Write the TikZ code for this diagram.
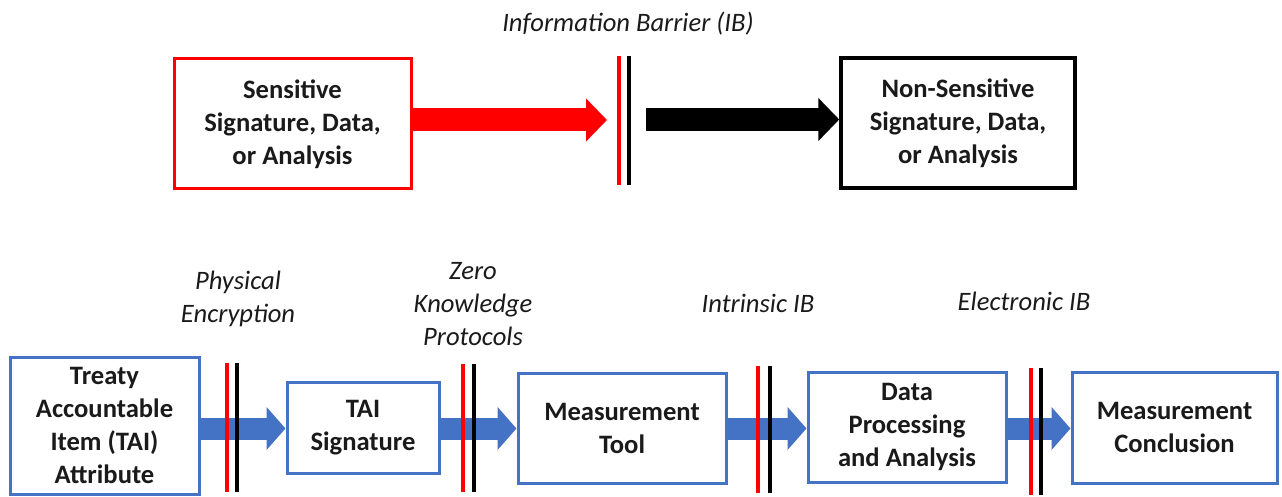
\documentclass[tikz,border=0pt]{standalone}
\usepackage{fontspec}
\setmainfont{Carlito}
\usetikzlibrary{arrows.meta}
\definecolor{obl}{HTML}{4472C4}
\definecolor{ink}{HTML}{1A1A1A}
\tikzset{
  box/.style={draw, line width=3pt, fill=white, inner sep=0pt, align=center,
    font=\fontsize{26.6}{33}\selectfont\bfseries, text=ink},
  lab/.style={align=center, font=\fontsize{26.6}{33}\selectfont\itshape, text=ink, inner sep=0pt},
  fat/.style={line width=23pt, -{Triangle[length=21pt,width=42pt]}},
  bluefat/.style={line width=22pt, draw=obl, -{Triangle[length=19pt,width=42pt]}},
  redbar/.style={draw=red, line width=3.2pt},
  blkbar/.style={draw=black, line width=3.2pt},
}
\begin{document}
\begin{tikzpicture}[x=1pt,y=-1pt]
\useasboundingbox (0,0) rectangle (1282,497);
% top row
\node[box, draw=red, minimum width=237pt, minimum height=130pt] (sens) at (292.5,124) {Sensitive\\Signature, Data,\\or Analysis};
\node[box, draw=black, line width=3.5pt, minimum width=234pt, minimum height=130pt] (nons) at (958,123) {Non-Sensitive\\Signature, Data,\\or Analysis};
\node[lab] (ibtitle) at (628,24) {Information Barrier (IB)};
\coordinate (rtip) at (607,120);
\coordinate (bstart) at (646,119.5);
\draw[fat, draw=red, fill=red] (sens.east |- rtip) -- (rtip);
\draw[fat, draw=black, fill=black] (bstart) -- (nons.west |- bstart);
\coordinate (r0a) at (619,56); \coordinate (r0b) at (619,185);
\coordinate (k0a) at (629,56); \coordinate (k0b) at (629,185);
\draw[redbar] (r0a) -- (r0b);
\draw[blkbar] (k0a) -- (k0b);
% bottom row
\node[box, draw=obl, minimum width=189pt, minimum height=137pt] (tai) at (104.5,425.5) {Treaty\\Accountable\\Item (TAI)\\Attribute};
\node[box, draw=obl, minimum width=152pt, minimum height=91pt] (sig) at (363,427.5) {TAI\\Signature};
\node[box, draw=obl, minimum width=208pt, minimum height=110pt] (tool) at (622,428) {Measurement\\Tool};
\node[box, draw=obl, minimum width=198pt, minimum height=110pt] (proc) at (907,427) {Data\\Processing\\and Analysis};
\node[box, draw=obl, minimum width=205pt, minimum height=111pt] (conc) at (1174.5,427.5) {Measurement\\Conclusion};
\coordinate (ay) at (0,428.5);
\draw[bluefat, fill=obl] (tai.east |- ay) -- (sig.west |- ay);
\draw[bluefat, fill=obl] (sig.east |- ay) -- (tool.west |- ay);
\draw[bluefat, fill=obl] (tool.east |- ay) -- (proc.west |- ay);
\draw[bluefat, fill=obl] (proc.east |- ay) -- (conc.west |- ay);
% barriers
\coordinate (r1a) at (227,363); \coordinate (r1b) at (227,492);
\coordinate (k1a) at (237,363); \coordinate (k1b) at (237,492);
\coordinate (r2a) at (463,364); \coordinate (r2b) at (463,492);
\coordinate (k2a) at (474,364); \coordinate (k2b) at (474,492);
\coordinate (r3a) at (758,366); \coordinate (r3b) at (758,493);
\coordinate (k3a) at (770,366); \coordinate (k3b) at (770,493);
\coordinate (r4a) at (1031,368); \coordinate (r4b) at (1031,495);
\coordinate (k4a) at (1041,368); \coordinate (k4b) at (1041,495);
\draw[redbar] (r1a) -- (r1b); \draw[blkbar] (k1a) -- (k1b);
\draw[redbar] (r2a) -- (r2b); \draw[blkbar] (k2a) -- (k2b);
\draw[redbar] (r3a) -- (r3b); \draw[blkbar] (k3a) -- (k3b);
\draw[redbar] (r4a) -- (r4b); \draw[blkbar] (k4a) -- (k4b);
% labels
\node[lab] (lphys) at (238,298.5) {Physical\\Encryption};
\node[lab] (lzero) at (473,304.5) {Zero\\Knowledge\\Protocols};
\node[lab] (lintr) at (758,303) {Intrinsic IB};
\node[lab] (lelec) at (1024,301) {Electronic IB};
\end{tikzpicture}
\end{document}
